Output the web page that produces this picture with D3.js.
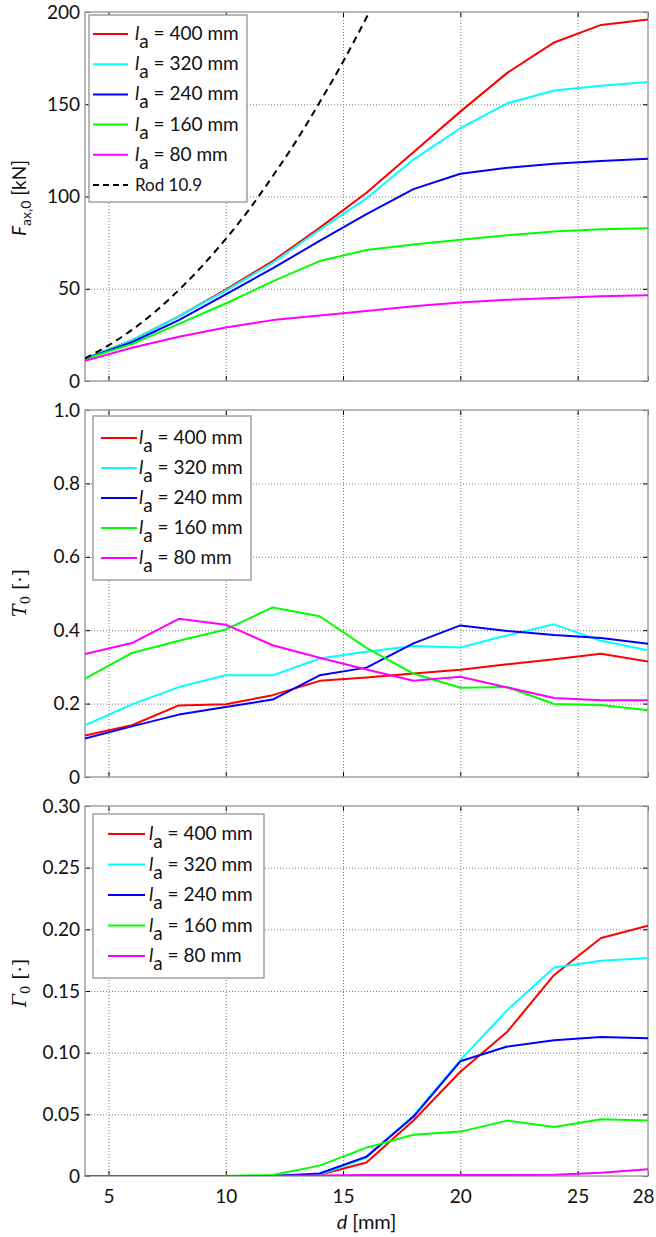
<!DOCTYPE html>
<html>
<head>
<meta charset="utf-8">
<script src="https://cdn.jsdelivr.net/npm/d3@7"></script>
<style>
body{margin:0;background:#fff;}
svg{display:block;font-family:Lato, "Open Sans", sans-serif;}
</style>
</head>
<body>
<div id="chart"></div>
<script>
var width=656, height=1237;
var left=85, right=648;

// d [mm]
var d=[4, 6, 8, 10, 12, 14, 16, 18, 20, 22, 24, 26, 28];
var xTicks=[5, 10, 15, 20, 25, 28];
var seriesNames=["400", "320", "240", "160", "80"];
var colors=["#ff0000", "#00ffff", "#0000ff", "#00ff00", "#ff00ff"];

// F_ax,0 [kN]
var fax400=[12, 22, 35, 49.5, 65, 83, 102, 124, 146, 167, 183.5, 193, 196];
var fax320=[12, 22, 35, 49, 64, 82, 99, 120, 137, 150.5, 157.5, 160, 162];
var fax240=[12, 21, 33, 47, 61, 76, 90.5, 104, 112.3, 115.6, 117.7, 119.3, 120.4];
var fax160=[12, 20, 31, 42, 54, 65, 71, 74, 76.6, 79, 81, 82.3, 82.8];
var fax80=[11, 18, 24, 29, 33, 35.5, 38, 40.5, 42.5, 44, 45, 46, 46.5];
var rodD=[4, 5, 6, 7, 8, 9, 10, 11, 12, 13, 14, 15, 16, 17];
var rodF=[12.3, 19.3, 27.7, 37.7, 49.3, 62.4, 77, 93, 111, 130, 151, 173, 197, 222];
var faxTicks=[0, 50, 100, 150, 200];

// T_0
var t400=[0.113, 0.141, 0.195, 0.198, 0.223, 0.262, 0.271, 0.282, 0.292, 0.307, 0.321, 0.336, 0.315];
var t320=[0.141, 0.198, 0.245, 0.277, 0.277, 0.323, 0.341, 0.357, 0.353, 0.386, 0.416, 0.371, 0.345];
var t240=[0.105, 0.138, 0.170, 0.191, 0.211, 0.277, 0.298, 0.364, 0.413, 0.398, 0.387, 0.379, 0.363];
var t160=[0.268, 0.338, 0.371, 0.402, 0.462, 0.438, 0.352, 0.282, 0.243, 0.245, 0.199, 0.196, 0.182];
var t80=[0.335, 0.365, 0.431, 0.415, 0.359, 0.325, 0.293, 0.262, 0.273, 0.244, 0.215, 0.209, 0.209];
var tTicks=[0, 0.2, 0.4, 0.6, 0.8, 1.0];

// Gamma_0
var g400=[0, 0, 0, 0, 0, 0.001, 0.011, 0.045, 0.0845, 0.117, 0.163, 0.193, 0.203];
var g320=[0, 0, 0, 0, 0, 0.001, 0.015, 0.049, 0.094, 0.1345, 0.169, 0.1745, 0.1767];
var g240=[0, 0, 0, 0, 0, 0.002, 0.0157, 0.048, 0.093, 0.105, 0.110, 0.1127, 0.1116];
var g160=[0, 0, 0, 0, 0.0008, 0.0084, 0.023, 0.0335, 0.036, 0.0449, 0.0397, 0.046, 0.045];
var g80=[0, 0, 0, 0, 0, 0.0005, 0.0008, 0.0008, 0.0008, 0.0008, 0.001, 0.0027, 0.0054];
var gTicks=[0, 0.05, 0.10, 0.15, 0.20, 0.25, 0.30];

var svg=d3.select('#chart').append('svg')
    .attr('width', width)
    .attr('height', height);

var x=d3.scaleLinear().domain([4, 28]).range([left, right]);

var panels=[
  {top:12, bottom:381, max:200, ticks:faxTicks, fmt:function(v){return String(v);},
   series:[fax400, fax320, fax240, fax160, fax80], rod:true,
   legend:{x:89, y:15, w:158, h:187, row0:34, dy:30.2, l0:93, l1:128, tx:135}},
  {top:410, bottom:777, max:1, ticks:tTicks, fmt:function(v){return v==0?"0":v.toFixed(1);},
   series:[t400, t320, t240, t160, t80], rod:false,
   legend:{x:93, y:416, w:158, h:164, row0:438, dy:30, l0:101, l1:137, tx:139}},
  {top:806, bottom:1176, max:0.3, ticks:gTicks, fmt:function(v){return v==0?"0":v.toFixed(2);},
   series:[g400, g320, g240, g160, g80], rod:false, xlabels:true,
   legend:{x:93, y:814, w:171, h:164, row0:834, dy:30.5, l0:108, l1:145, tx:149}}
];

panels.forEach(function(p, pi){
  var y=d3.scaleLinear().domain([0, p.max]).range([p.bottom, p.top]);
  var g=svg.append('g');

  g.append('clipPath').attr('id', 'clip'+pi)
    .append('rect')
    .attr('x', left).attr('y', p.top)
    .attr('width', right-left).attr('height', p.bottom-p.top);

  // grid
  g.append('g')
    .attr('transform', 'translate(0,'+p.bottom+')')
    .call(d3.axisBottom(x).tickValues([5, 10, 15, 20, 25]).tickSize(-(p.bottom-p.top)).tickFormat(''))
    .call(function(s){ s.select('.domain').remove(); });
  g.append('g')
    .attr('transform', 'translate('+left+',0)')
    .call(d3.axisLeft(y).tickValues(p.ticks.slice(1, -1)).tickSize(-(right-left)).tickFormat(''))
    .call(function(s){ s.select('.domain').remove(); });
  g.selectAll('.tick line')
    .attr('stroke', '#7f7f7f')
    .attr('stroke-width', 1)
    .attr('stroke-dasharray', '1,2');

  // inward ticks on all sides
  g.append('g').attr('transform', 'translate('+left+',0)')
    .call(d3.axisLeft(y).tickValues(p.ticks).tickSize(-5).tickPadding(5).tickFormat(p.fmt));
  g.append('g').attr('transform', 'translate('+right+',0)')
    .call(d3.axisRight(y).tickValues(p.ticks).tickSize(-5).tickFormat(''));
  var xl=g.append('g').attr('transform', 'translate(0,'+p.bottom+')')
    .call(d3.axisBottom(x).tickValues(xTicks).tickSize(-5).tickPadding(10)
      .tickFormat(p.xlabels ? d3.format('d') : ''));
  g.append('g').attr('transform', 'translate(0,'+p.top+')')
    .call(d3.axisTop(x).tickValues(xTicks).tickSize(-5).tickFormat(''));
  g.selectAll('.domain').remove();
  g.selectAll('.tick text')
    .attr('fill', '#111')
    .style('font-size', '19px')
    .style('font-family', 'Lato, sans-serif');
  xl.selectAll('.tick text').attr('dy', '0.9em')
    .filter(function(v){ return v==28; })
    .attr('text-anchor', 'end').attr('x', 6);

  // frame
  g.append('rect')
    .attr('x', left).attr('y', p.top)
    .attr('width', right-left).attr('height', p.bottom-p.top)
    .attr('fill', 'none')
    .attr('stroke', '#a0a0a0')
    .attr('stroke-width', 1.5);

  var line=d3.line()
    .x(function(v, i){ return x(d[i]); })
    .y(function(v){ return y(v); });

  var plot=g.append('g').attr('clip-path', 'url(#clip'+pi+')');
  p.series.forEach(function(s, si){
    plot.append('path')
      .attr('d', line(s))
      .attr('fill', 'none')
      .attr('stroke', colors[si])
      .attr('stroke-width', 2)
      .attr('stroke-linejoin', 'round');
  });
  if(p.rod){
    var rline=d3.line()
      .x(function(v, i){ return x(rodD[i]); })
      .y(function(v){ return y(v); })
      .curve(d3.curveMonotoneX);
    plot.append('path')
      .attr('d', rline(rodF))
      .attr('fill', 'none')
      .attr('stroke', '#000')
      .attr('stroke-width', 2)
      .attr('stroke-dasharray', '7,5');
  }

  // legend
  var L=p.legend;
  var lg=g.append('g');
  lg.append('rect')
    .attr('x', L.x).attr('y', L.y).attr('width', L.w).attr('height', L.h)
    .attr('fill', '#fff').attr('stroke', '#a0a0a0').attr('stroke-width', 1.5);
  seriesNames.forEach(function(n, i){
    var ry=L.row0+i*L.dy;
    lg.append('line')
      .attr('x1', L.l0).attr('x2', L.l1).attr('y1', ry).attr('y2', ry)
      .attr('stroke', colors[i]).attr('stroke-width', 2);
    var t=lg.append('text')
      .attr('x', L.tx).attr('y', ry+6)
      .attr('fill', '#111')
      .style('font-size', '19px');
    t.append('tspan').style('font-style', 'italic').text('l');
    t.append('tspan').attr('dy', 8).text('a');
    t.append('tspan').attr('dy', -8).text(' = '+n+' mm');
  });
  if(p.rod){
    var ry=L.row0+5*L.dy;
    lg.append('line')
      .attr('x1', L.l0).attr('x2', L.l1).attr('y1', ry).attr('y2', ry)
      .attr('stroke', '#000').attr('stroke-width', 2).attr('stroke-dasharray', '6,4');
    lg.append('text')
      .attr('x', L.tx).attr('y', ry+6)
      .attr('fill', '#111')
      .style('font-size', '17px')
      .text('Rod 10.9');
  }
});

// y labels
var yl1=svg.append('text')
  .attr('transform', 'translate(26,198) rotate(-90)')
  .attr('text-anchor', 'middle')
  .attr('fill', '#111')
  .style('font-size', '19px');
yl1.append('tspan').style('font-style', 'italic').text('F');
yl1.append('tspan').attr('dy', 5).style('font-size', '14px').text('ax,0');
yl1.append('tspan').attr('dy', -5).text(' [kN]');

var yl2=svg.append('text')
  .attr('transform', 'translate(26,593) rotate(-90)')
  .attr('text-anchor', 'middle')
  .attr('fill', '#111')
  .style('font-family', '"DejaVu Serif", serif')
  .style('font-size', '19px');
yl2.append('tspan').style('font-style', 'italic').text('T');
yl2.append('tspan').attr('dy', 4).style('font-size', '13px').text('0');
yl2.append('tspan').attr('dy', -4).text(' [·]');

var yl3=svg.append('text')
  .attr('transform', 'translate(26,983) rotate(-90)')
  .attr('text-anchor', 'middle')
  .attr('fill', '#111')
  .style('font-family', '"DejaVu Serif", serif')
  .style('font-size', '19px');
yl3.append('tspan').style('font-style', 'italic').text('Γ');
yl3.append('tspan').attr('dy', 4).style('font-size', '13px').text('0');
yl3.append('tspan').attr('dy', -4).text(' [·]');

// x label
var xlab=svg.append('text')
  .attr('x', (left+right)/2).attr('y', 1229)
  .attr('text-anchor', 'middle')
  .attr('fill', '#111')
  .style('font-size', '20px');
xlab.append('tspan').style('font-style', 'italic').text('d');
xlab.append('tspan').text('  [mm]');
</script>
</body>
</html>
